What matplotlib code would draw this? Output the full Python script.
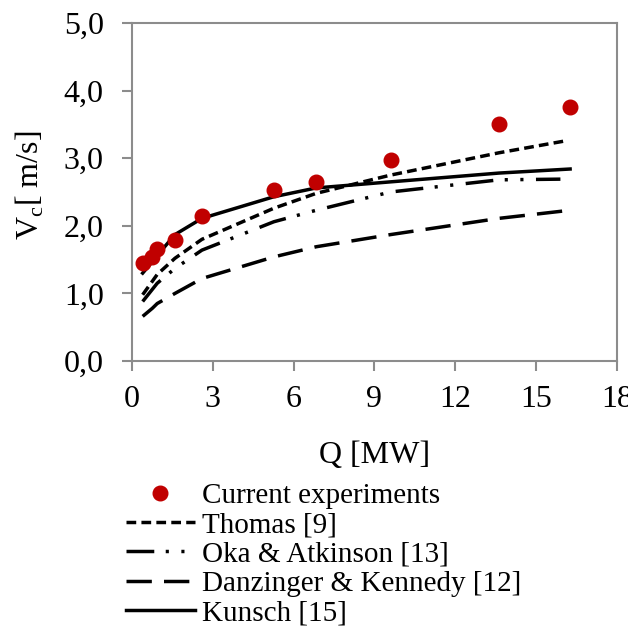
import numpy as np
import matplotlib.pyplot as plt

plt.rcParams['font.family'] = ['Liberation Serif', 'DejaVu Serif']
plt.rcParams['mathtext.fontset'] = 'custom'
plt.rcParams['mathtext.rm'] = 'Liberation Serif'

# heat release rate [MW]
Q = [0.40, 0.76, 0.94, 1.60, 2.60, 5.27, 6.84, 9.60, 13.62, 16.26]
# measured critical velocity [m/s]
v_exp = [1.45, 1.54, 1.65, 1.79, 2.14, 2.53, 2.65, 2.98, 3.50, 3.75]
# correlations
v_thomas = [0.98, 1.18, 1.28, 1.52, 1.80, 2.26, 2.48, 2.75, 3.08, 3.25]
v_oka = [0.88, 1.06, 1.15, 1.37, 1.64, 2.06, 2.23, 2.50, 2.68, 2.69]
v_danz = [0.66, 0.78, 0.85, 1.00, 1.22, 1.54, 1.69, 1.87, 2.11, 2.23]
v_kunsch = [1.30, 1.47, 1.56, 1.87, 2.11, 2.43, 2.56, 2.65, 2.78, 2.84]

fig = plt.figure(figsize=(6.28, 6.30), dpi=100)
ax = fig.add_axes([0.210, 0.427, 0.7725, 0.5365])

lw = 2.5
ax.plot(Q, v_exp, 'o', color='#C00000', ms=10.5, label='Current experiments', zorder=5)
ax.plot(Q[:-1] + [16.0], v_thomas, color='black', lw=lw, dashes=(2.8, 1.5), label='Thomas [9]')
ax.plot(Q[:-1] + [15.9], v_oka, color='black', lw=lw, dashes=(8, 3.3, 0.9, 3.6, 0.9, 3.6), label='Oka & Atkinson [13]')
ax.plot(Q, v_danz, color='black', lw=lw, dashes=(7.3, 3.5), label='Danzinger & Kennedy [12]')
ax.plot(Q, v_kunsch, color='black', lw=lw, label='Kunsch [15]')

ax.set_xlim(0, 18)
ax.set_ylim(0, 5)
ax.set_xticks(np.arange(0, 19, 3))
yt = np.arange(0, 5.1, 1)
ax.set_yticks(yt)
ax.set_yticklabels([('%.1f' % v).replace('.', ',') for v in yt])

for s in ax.spines.values():
    s.set_color('#8c8c8c')
    s.set_linewidth(1.5)
ax.tick_params(direction='out', length=7.2, width=1.5, color='#8c8c8c', labelsize=23)
ax.tick_params(axis='y', pad=13)
ax.tick_params(axis='x', pad=10)

ax.set_xlabel('Q [MW]', fontsize=23)
ax.xaxis.set_label_coords(0.5, -0.237)
ax.set_ylabel(r'V$_{\mathrm{c}}$[ m/s]', fontsize=23)
ax.yaxis.set_label_coords(-0.178, 0.52)

fig.legend(loc='upper left', bbox_to_anchor=(0.201, 0.234), frameon=False,
           fontsize=21, handlelength=2.35, handletextpad=0.25, labelspacing=0.1,
           borderpad=0, borderaxespad=0)

fig.savefig('out.png', dpi=100)
